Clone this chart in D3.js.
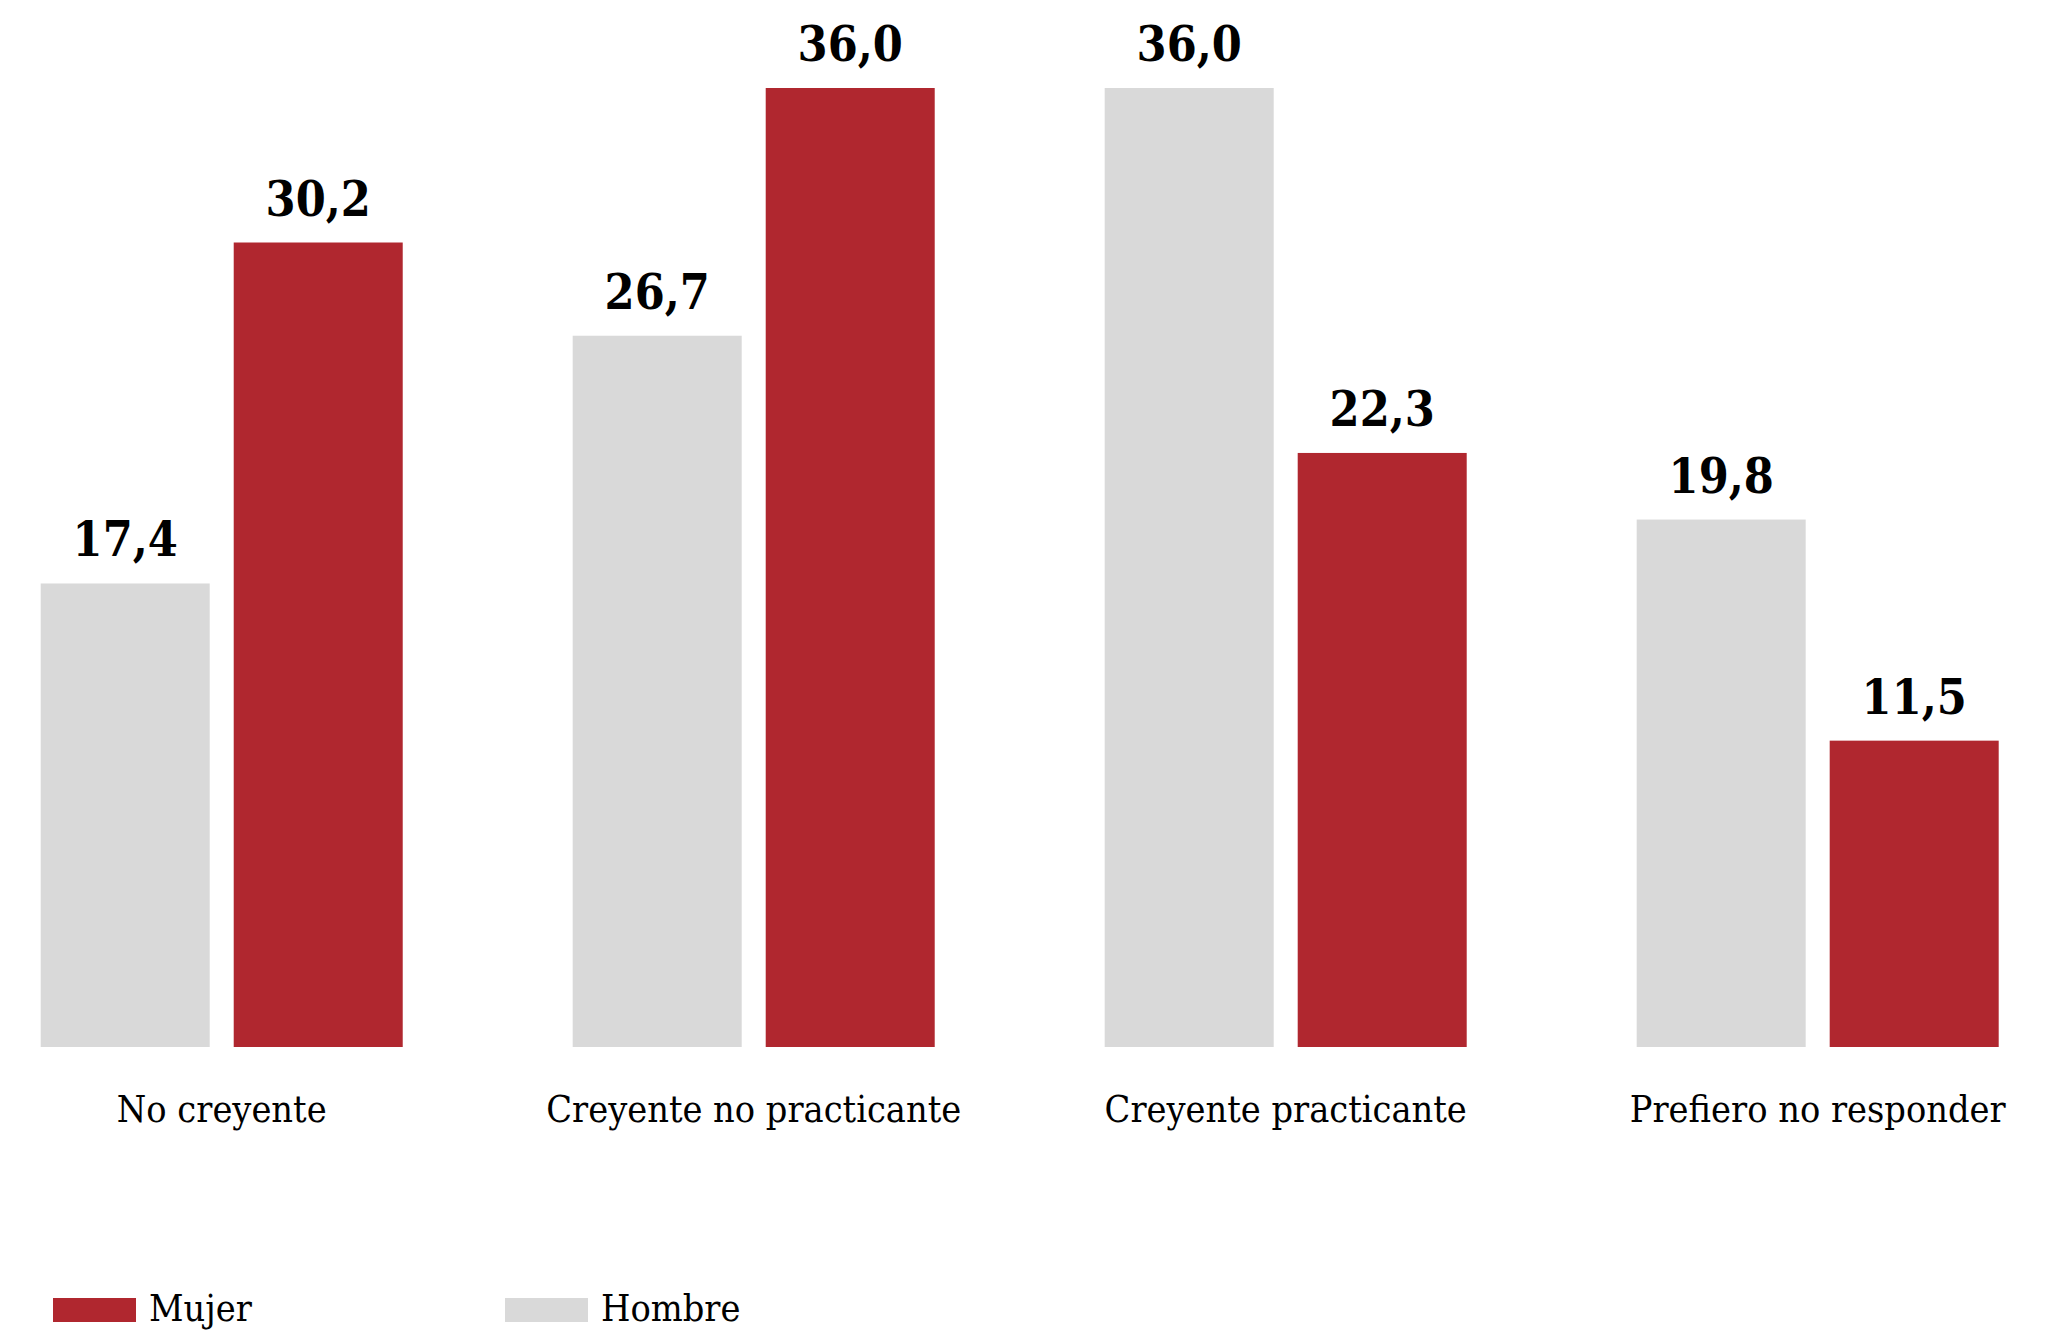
<!DOCTYPE html>
<html>
<head>
<meta charset="utf-8">
<script src="https://cdn.jsdelivr.net/npm/d3@7"></script>
<style>
  html, body { margin: 0; padding: 0; background: #ffffff; }
  svg { display: block; }
</style>
</head>
<body>
<svg id="chart" width="2069" height="1332"></svg>
<script>
const categories = ["No creyente", "Creyente no practicante", "Creyente practicante", "Prefiero no responder"];
const series = ["Hombre", "Mujer"];
const hombre = [17.4, 26.7, 36.0, 19.8];
const mujer = [30.2, 36.0, 22.3, 11.5];
const legendItems = ["Mujer", "Hombre"];

const colors = { Mujer: "#B0272F", Hombre: "#D9D9D9" };
const FONT = "'Roboto Slab', 'DejaVu Serif Condensed', 'DejaVu Serif', serif";

const svg = d3.select("#chart");

const baseline = 1047;
const yTop36 = 88;

const x0 = d3.scaleBand()
  .domain(categories)
  .range([40.7, 1998.7])
  .paddingInner(0.3195)
  .paddingOuter(0);

const x1 = d3.scaleBand()
  .domain(series)
  .range([0, x0.bandwidth()])
  .paddingInner(0.1244)
  .paddingOuter(0);

const y = d3.scaleLinear().domain([0, 36]).range([baseline, yTop36]);

const data = categories.map((c, i) => ({
  cat: c,
  values: [
    { key: "Hombre", value: hombre[i] },
    { key: "Mujer", value: mujer[i] }
  ]
}));

const fmt = v => d3.format(".1f")(v).replace(".", ",");

const groups = svg.append("g").selectAll("g")
  .data(data)
  .join("g")
  .attr("transform", d => `translate(${x0(d.cat)},0)`);

groups.selectAll("rect")
  .data(d => d.values)
  .join("rect")
  .attr("x", d => x1(d.key))
  .attr("width", x1.bandwidth())
  .attr("y", d => y(d.value))
  .attr("height", d => y(0) - y(d.value))
  .attr("fill", d => colors[d.key]);

groups.selectAll("text.val")
  .data(d => d.values)
  .join("text")
  .attr("class", "val")
  .attr("x", d => x1(d.key) + x1.bandwidth() / 2)
  .attr("y", d => y(d.value) - 27)
  .attr("text-anchor", "middle")
  .attr("font-family", FONT)
  .attr("font-weight", "bold")
  .attr("font-size", 48)
  .attr("fill", "#000")
  .text(d => fmt(d.value));

// category axis labels
const xAxis = d3.axisBottom(x0).tickSize(0).tickPadding(0);
const axisG = svg.append("g")
  .attr("transform", `translate(0,${baseline})`)
  .call(xAxis);
axisG.select(".domain").remove();
axisG.selectAll("text")
  .attr("y", 75)
  .attr("dy", 0)
  .attr("font-family", FONT)
  .attr("font-size", 37.5)
  .attr("fill", "#000");

// legend
const legendX = [53, 505];
const legend = svg.append("g").selectAll("g")
  .data(legendItems)
  .join("g")
  .attr("transform", (d, i) => `translate(${legendX[i]},1298)`);
legend.append("rect")
  .attr("width", 83)
  .attr("height", 24)
  .attr("fill", d => colors[d]);
legend.append("text")
  .attr("x", 96)
  .attr("y", 23)
  .attr("font-family", FONT)
  .attr("font-size", 37.5)
  .attr("fill", "#000")
  .text(d => d);
</script>
</body>
</html>
